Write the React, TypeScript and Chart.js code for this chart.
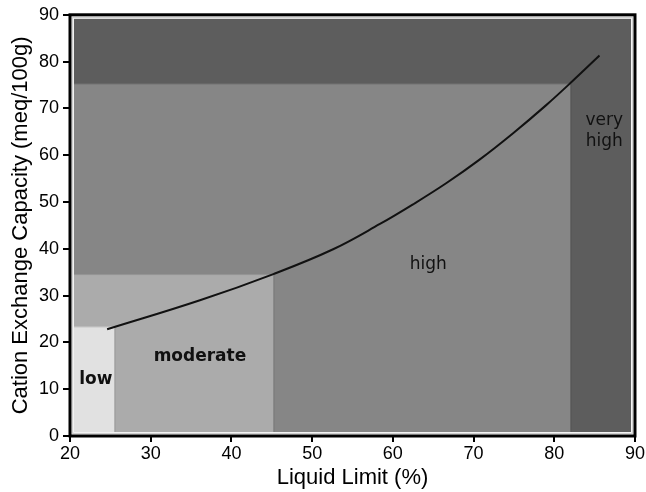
import React, { useEffect, useRef } from "react";
import { Chart, registerables } from "chart.js";

Chart.register(...registerables);

// Curve of cation exchange capacity against liquid limit
const liquidLimit = [24.6, 36.1, 45.2, 52.6, 58.4, 62.5, 66.6, 70.7, 74.9, 79.0, 82.3, 85.6];
const cationExchange = [22.8, 29.0, 34.6, 39.9, 45.3, 49.5, 54.0, 59.0, 64.7, 70.7, 75.9, 81.3];

// Activity zones: each spans from the axis origin (20, 0) to its own corner
const zoneNames = ["high", "moderate", "low"];
const zoneMaxLL = [82, 45.2, 25.5];
const zoneMaxCEC = [75.3, 34.6, 23.4];
const zoneColors = ["#868686", "#ababab", "#e1e1e1"];
const outerColor = "#5d5d5d";

// Zone labels
const labelTexts = ["low", "moderate", "high", "very", "high"];
const labelX = [23.2, 36.1, 64.4, 86.2, 86.2];
const labelY = [12.1, 16.9, 36.6, 67.4, 62.9];
const labelBold = [true, true, false, false, false];

const xTicksMin = 20;
const xTicksMax = 90;
const yTicksMin = 0;
const yTicksMax = 90;

const zonesPlugin = {
  id: "zones",
  beforeDatasetsDraw(chart: any) {
    const { ctx, chartArea: ca, scales } = chart;
    const xs = scales.x;
    const ys = scales.y;
    const inset = 4;
    const L = ca.left + inset;
    const T = ca.top + inset;
    const R = ca.right - inset;
    const B = ca.bottom - inset;
    ctx.save();
    ctx.fillStyle = outerColor;
    ctx.fillRect(L, T, R - L, B - T);
    ctx.beginPath();
    ctx.rect(L, T, R - L, B - T);
    ctx.clip();
    zoneNames.forEach((_, i) => {
      const x1 = xs.getPixelForValue(zoneMaxLL[i]);
      const y1 = ys.getPixelForValue(zoneMaxCEC[i]);
      ctx.fillStyle = zoneColors[i];
      ctx.fillRect(L, y1, x1 - L, B - y1);
      ctx.strokeStyle = "rgba(0,0,0,0.12)";
      ctx.lineWidth = 1;
      ctx.beginPath();
      ctx.moveTo(L, y1 + 0.5);
      ctx.lineTo(x1 + 0.5, y1 + 0.5);
      ctx.lineTo(x1 + 0.5, B);
      ctx.stroke();
    });
    ctx.restore();

    ctx.save();
    // light inner rim
    ctx.strokeStyle = "#d0d0d0";
    ctx.lineWidth = 1.5;
    ctx.strokeRect(ca.left + 2.5, ca.top + 2.5, ca.right - ca.left - 5, ca.bottom - ca.top - 5);
    // black frame
    ctx.strokeStyle = "#000";
    ctx.lineWidth = 3;
    ctx.strokeRect(ca.left, ca.top, ca.right - ca.left, ca.bottom - ca.top);

    // zone labels
    ctx.fillStyle = "#111";
    ctx.textAlign = "center";
    ctx.textBaseline = "middle";
    labelTexts.forEach((t, i) => {
      ctx.font = labelBold[i]
        ? "bold 17px 'DejaVu Sans'"
        : "17px 'DejaVu Sans'";
      ctx.fillText(t, xs.getPixelForValue(labelX[i]), ys.getPixelForValue(labelY[i]));
    });
    ctx.restore();
  },
};

export default function App() {
  const ref = useRef<HTMLCanvasElement>(null);

  useEffect(() => {
    document.body.style.margin = "0";
    const canvas = ref.current;
    if (!canvas) return;
    const tickFont = { family: "'Liberation Sans', Arial, sans-serif", size: 18 };
    const titleFont = { family: "'Liberation Sans', Arial, sans-serif", size: 22 };
    const chart = new Chart(canvas, {
      type: "line",
      data: {
        datasets: [
          {
            data: liquidLimit.map((x, i) => ({ x, y: cationExchange[i] })),
            borderColor: "#111",
            borderWidth: 2,
            pointRadius: 0,
            fill: false,
            tension: 0.4,
          },
        ],
      },
      options: {
        animation: false,
        responsive: false,
        devicePixelRatio: 1,
        layout: { padding: { left: 0, right: 10, top: 13, bottom: 0 } },
        plugins: {
          legend: { display: false },
          tooltip: { enabled: false },
        },
        scales: {
          x: {
            type: "linear",
            min: xTicksMin,
            max: xTicksMax,
            ticks: { stepSize: 10, color: "#000", font: tickFont, padding: 1 },
            grid: {
              display: true,
              drawOnChartArea: false,
              drawTicks: true,
              tickLength: 6,
              color: "#000",
              lineWidth: 2,
            },
            border: { display: false },
            title: {
              display: true,
              text: "Liquid Limit (%)",
              color: "#000",
              font: titleFont,
              padding: { top: 0, bottom: 1 },
            },
            afterFit(scale: any) {
              scale.height = 56;
            },
          },
          y: {
            type: "linear",
            min: yTicksMin,
            max: yTicksMax,
            ticks: { stepSize: 10, color: "#000", font: tickFont, padding: 4 },
            grid: {
              display: true,
              drawOnChartArea: false,
              drawTicks: true,
              tickLength: 7,
              color: "#000",
              lineWidth: 2,
            },
            border: { display: false },
            title: {
              display: true,
              text: "Cation Exchange Capacity (meq/100g)",
              color: "#000",
              font: titleFont,
              padding: { top: 8, bottom: 0 },
            },
            afterFit(scale: any) {
              scale.width = 70;
            },
          },
        },
      },
      plugins: [zonesPlugin],
    } as any);
    return () => chart.destroy();
  }, []);

  return (
    <div style={{ width: 646, height: 492, background: "#fff" }}>
      <canvas ref={ref} width={646} height={492} />
    </div>
  );
}
